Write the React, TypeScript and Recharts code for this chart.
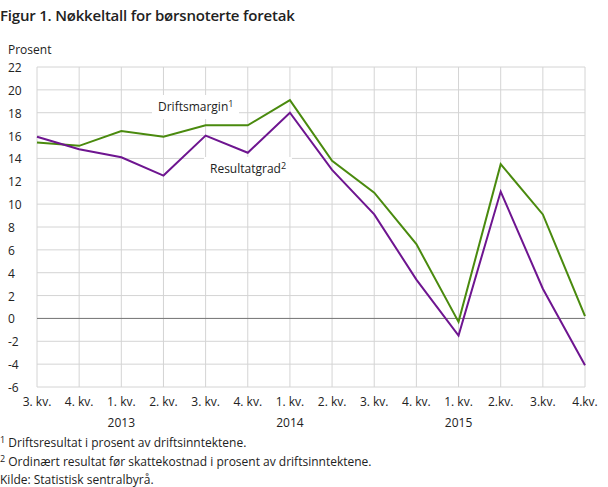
import { LineChart, Line, XAxis, YAxis, CartesianGrid, ReferenceLine } from "recharts";

const quarters = ["3. kv.", "4. kv.", "1. kv.", "2. kv.", "3. kv.", "4. kv.", "1. kv.", "2. kv.", "3. kv.", "4. kv.", "1. kv.", "2.kv.", "3.kv.", "4.kv."];
const years = ["", "", "2013", "", "", "", "2014", "", "", "", "2015", "", "", ""];
const driftsmargin = [15.4, 15.1, 16.4, 15.9, 16.9, 16.9, 19.1, 13.8, 11.0, 6.5, -0.3, 13.5, 9.1, 0.2];
const resultatgrad = [15.9, 14.8, 14.1, 12.5, 16.0, 14.5, 18.0, 13.0, 9.1, 3.4, -1.5, 11.1, 2.6, -4.1];
const yTicks = [-6, -4, -2, 0, 2, 4, 6, 8, 10, 12, 14, 16, 18, 20, 22];

const data = quarters.map((q, i) => ({ idx: i, q, year: years[i], driftsmargin: driftsmargin[i], resultatgrad: resultatgrad[i] }));

const FONT = "'Open Sans', sans-serif";
const GREEN = "#4a8a0e";
const PURPLE = "#6e1590";

const XTick = ({ x, y, payload }: any) => {
  const i = payload.value;
  return (
    <g>
      <text x={x} y={y + 11} textAnchor="middle" fontSize={12} fill="#222" fontFamily={FONT}>{quarters[i]}</text>
      {years[i] && <text x={x} y={y + 32} textAnchor="middle" fontSize={12} fill="#222" fontFamily={FONT}>{years[i]}</text>}
    </g>
  );
};

const YTick = ({ y, payload }: any) => (
  <text x={8} y={y + 5} textAnchor="start" fontSize={12} fill="#222" fontFamily={FONT}>{payload.value}</text>
);

const sup = { fontSize: 9, verticalAlign: "4px", lineHeight: 0 };

export default function App() {
  return (
    <div style={{ position: "relative", width: 608, height: 487, fontFamily: FONT, color: "#222", background: "#fff" }}>
      <style>{`body{margin:0}`}</style>
      <LineChart width={608} height={487} data={data} margin={{ top: 67, right: 23, bottom: 99, left: 0 }}>
        <CartesianGrid stroke="#d4d4d4" strokeWidth={1} />
        <XAxis dataKey="idx" type="category" axisLine={false} tickLine={false} tick={<XTick />} interval={0} height={1} />
        <YAxis domain={[-6, 22]} ticks={yTicks} axisLine={false} tickLine={false} tick={<YTick />} width={37} interval={0} />
        <ReferenceLine y={0} stroke="#777" strokeWidth={1} />
        <Line dataKey="driftsmargin" stroke={GREEN} strokeWidth={2} dot={false} isAnimationActive={false} />
        <Line dataKey="resultatgrad" stroke={PURPLE} strokeWidth={2} dot={false} isAnimationActive={false} />
      </LineChart>
      <div style={{ position: "absolute", left: 0, top: 5, fontSize: 15, fontWeight: 600, letterSpacing: -0.2 }}>Figur 1. Nøkkeltall for børsnoterte foretak</div>
      <div style={{ position: "absolute", left: 8, top: 41, fontSize: 12 }}>Prosent</div>
      <div style={{ position: "absolute", left: 152, top: 95, padding: "0 6px", background: "#fff", fontSize: 12, lineHeight: "24px" }}>
        Driftsmargin<sup style={sup}>1</sup>
      </div>
      <div style={{ position: "absolute", left: 204, top: 157, padding: "0 6px", background: "#fff", fontSize: 12, lineHeight: "24px" }}>
        Resultatgrad<sup style={sup}>2</sup>
      </div>
      <div style={{ position: "absolute", left: 0, top: 433, fontSize: 12, lineHeight: "19px" }}>
        <div><sup style={sup}>1</sup> Driftsresultat i prosent av driftsinntektene.</div>
        <div><sup style={sup}>2</sup> Ordinært resultat før skattekostnad i prosent av driftsinntektene.</div>
        <div style={{ marginTop: -1 }}>Kilde: Statistisk sentralbyrå.</div>
      </div>
    </div>
  );
}
